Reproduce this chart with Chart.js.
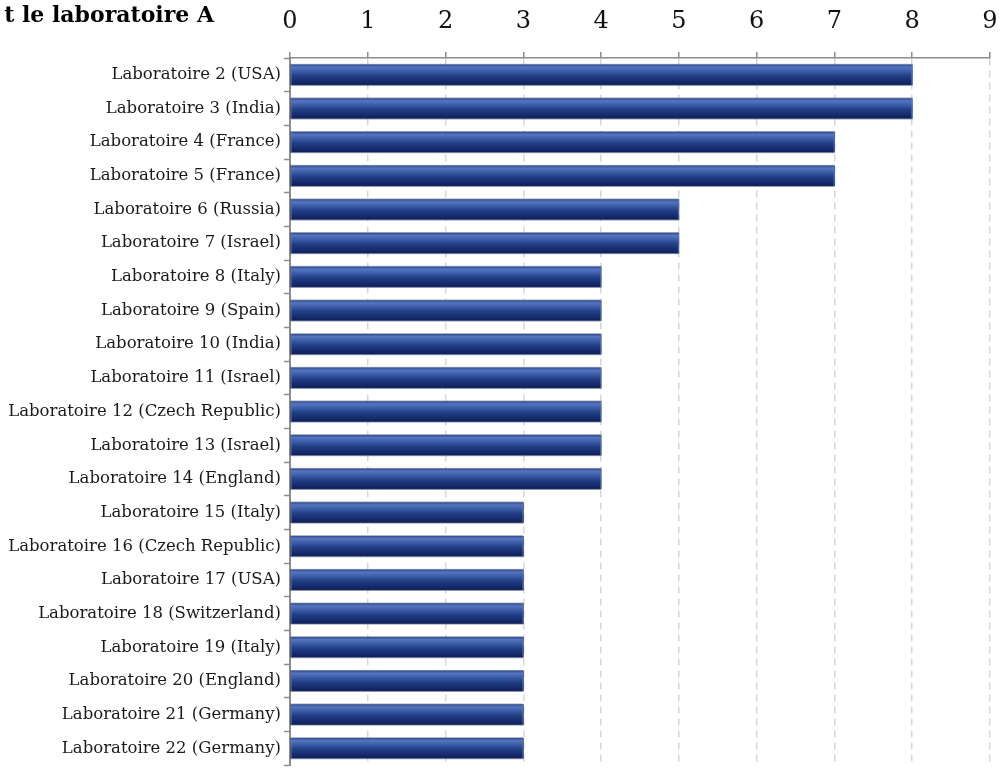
<!DOCTYPE html>
<html>
<head>
<meta charset="utf-8">
<script src="https://cdn.jsdelivr.net/npm/chart.js@4/dist/chart.umd.min.js"></script>
<style>
  html, body { margin: 0; padding: 0; background: #fff; }
  #wrap { width: 1004px; height: 778px; }
</style>
</head>
<body>
<div id="wrap"><canvas id="chart" width="1004" height="778"></canvas></div>
<script>
const labs = [
  "Laboratoire 2 (USA)", "Laboratoire 3 (India)", "Laboratoire 4 (France)",
  "Laboratoire 5 (France)", "Laboratoire 6 (Russia)", "Laboratoire 7 (Israel)",
  "Laboratoire 8 (Italy)", "Laboratoire 9 (Spain)", "Laboratoire 10 (India)",
  "Laboratoire 11 (Israel)", "Laboratoire 12 (Czech Republic)", "Laboratoire 13 (Israel)",
  "Laboratoire 14 (England)", "Laboratoire 15 (Italy)", "Laboratoire 16 (Czech Republic)",
  "Laboratoire 17 (USA)", "Laboratoire 18 (Switzerland)", "Laboratoire 19 (Italy)",
  "Laboratoire 20 (England)", "Laboratoire 21 (Germany)", "Laboratoire 22 (Germany)"
];
const counts = [8, 8, 7, 7, 5, 5, 4, 4, 4, 4, 4, 4, 4, 3, 3, 3, 3, 3, 3, 3, 3];
const xTicks = [0, 1, 2, 3, 4, 5, 6, 7, 8, 9];
const titleText = "t le laboratoire A";

const serif = '"DejaVu Serif", Cambria, serif';
const axisGrey = "#8c8c8c";

// shaded fill painted over each bar, using the bar geometry from the chart
const barShade = {
  id: "barShade",
  afterDatasetsDraw(chart) {
    const ctx = chart.ctx;
    chart.getDatasetMeta(0).data.forEach(bar => {
      const top = bar.y - bar.height / 2;
      const left = bar.base;
      const w = bar.x - bar.base;
      const h = bar.height;
      const g = ctx.createLinearGradient(0, top, 0, top + h);
      g.addColorStop(0, "#33509a");
      g.addColorStop(0.12, "#5475c0");
      g.addColorStop(0.3, "#3f5fab");
      g.addColorStop(0.55, "#223f86");
      g.addColorStop(0.85, "#15296b");
      g.addColorStop(1, "#0e1f55");
      ctx.save();
      ctx.fillStyle = g;
      ctx.fillRect(left, top, w, h);
      ctx.strokeStyle = "rgba(110,120,145,0.7)";
      ctx.lineWidth = 1;
      ctx.strokeRect(left + 0.5, top - 0.5, w - 1, h + 1);
      ctx.restore();
    });
  }
};

const titlePlugin = {
  id: "cutTitle",
  afterDraw(chart) {
    const ctx = chart.ctx;
    ctx.save();
    ctx.font = "bold 22px " + serif;
    ctx.fillStyle = "#000";
    ctx.textAlign = "right";
    ctx.textBaseline = "alphabetic";
    ctx.fillText(titleText, 214, 22);
    ctx.restore();
  }
};

new Chart(document.getElementById("chart"), {
  type: "bar",
  data: {
    labels: labs,
    datasets: [{
      data: counts,
      backgroundColor: "#1c3578",
      barThickness: 20,
      borderWidth: 0
    }]
  },
  options: {
    indexAxis: "y",
    responsive: false,
    animation: false,
    layout: { padding: { left: 0, right: 14, top: 0, bottom: 0 } },
    plugins: {
      legend: { display: false },
      tooltip: { enabled: false },
      title: { display: false }
    },
    scales: {
      x: {
        position: "top",
        min: 0,
        max: 9,
        afterBuildTicks: scale => { scale.ticks = xTicks.map(v => ({ value: v })); },
        afterFit: scale => {
          scale.height = 58;
          scale.paddingLeft = 0;
          scale.paddingRight = 0;
        },
        border: { display: true, color: axisGrey, width: 1.5, dash: [7, 5] },
        grid: {
          color: "#d6d6d6",
          lineWidth: 1.5,
          tickLength: 6,
          tickColor: axisGrey,
          tickBorderDash: [1, 0],
          tickWidth: 1.5
        },
        ticks: {
          font: { family: serif, size: 24 },
          color: "#111",
          padding: 16
        }
      },
      y: {
        afterFit: scale => { scale.width = 290; },
        border: { display: true, color: axisGrey, width: 2 },
        grid: {
          drawOnChartArea: false,
          tickLength: 6,
          tickColor: axisGrey,
          tickWidth: 1.5
        },
        ticks: {
          font: { family: serif, size: 16.5 },
          color: "#1a1a1a",
          padding: 3,
          autoSkip: false
        }
      }
    }
  },
  plugins: [barShade, titlePlugin]
});
</script>
</body>
</html>
